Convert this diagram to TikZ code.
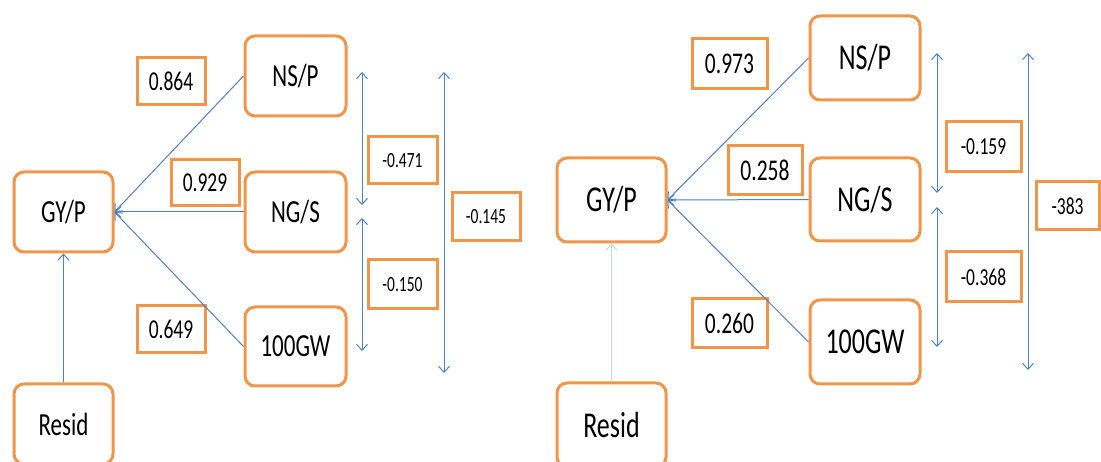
\documentclass[tikz,border=0pt]{standalone}
\usepackage{fontspec}
\usepackage{graphicx}
\setmainfont{Carlito}
\usetikzlibrary{arrows.meta}
\definecolor{boxorange}{RGB}{240,150,75}
\definecolor{lineblue}{RGB}{80,128,190}
\definecolor{paleblue}{RGB}{190,214,240}
\newcommand{\stt}[1]{\scalebox{1}[1.4]{#1}}
\tikzset{
  mainbox/.style={draw=boxorange, line width=3pt, rounded corners=10pt, fill=white, inner sep=0pt},
  numbox/.style={draw=boxorange, line width=3pt, fill=white, inner sep=0pt},
  arr/.style={draw=lineblue, line width=1pt, -{Straight Barb[length=6pt,width=11pt]}},
  darr/.style={draw=lineblue, line width=1pt, {Straight Barb[length=6pt,width=11pt]}-{Straight Barb[length=6pt,width=11pt]}},
}
\begin{document}
\begin{tikzpicture}[x=1pt,y=-1pt]
\useasboundingbox (0,0) rectangle (1101,462);
\clip (0,0) rectangle (1101,462);
\fill[white] (0,0) rectangle (1101,462);
% ---------- left panel ----------
\begin{scope}[every node/.append style={font=\fontsize{23}{26}\selectfont}]
\node[mainbox, minimum width=99pt, minimum height=80pt] (gyp1) at (63.5,212) {\stt{GY/P}};
\node[mainbox, minimum width=101pt, minimum height=80pt] (nsp1) at (295.5,76) {\stt{NS/P}};
\node[mainbox, minimum width=101pt, minimum height=80pt] (ngs1) at (295.5,212) {\stt{NG/S}};
\node[mainbox, minimum width=101pt, minimum height=79pt] (gw1) at (295.5,346.5) {\stt{100GW}};
\node[mainbox, minimum width=99pt, minimum height=80pt] (res1) at (63.5,424) {\stt{Resid}};
\end{scope}
\begin{scope}[every node/.append style={font=\fontsize{19.5}{22}\selectfont}]
\node[numbox, minimum width=68pt, minimum height=47pt] (l864) at (171,81.5) {\stt{0.864}};
\node[numbox, minimum width=68pt, minimum height=46pt] (l929) at (205,183) {\stt{0.929}};
\node[numbox, minimum width=68pt, minimum height=47pt] (l649) at (171,329.5) {\stt{0.649}};
\end{scope}
\begin{scope}[every node/.append style={font=\fontsize{15.5}{18}\selectfont}]
\node[numbox, minimum width=69pt, minimum height=47pt] (l471) at (402.5,160.5) {\stt{-0.471}};
\node[numbox, minimum width=68pt, minimum height=48pt] (l145) at (486,217) {\stt{-0.145}};
\node[numbox, minimum width=69pt, minimum height=49pt] (l150) at (402.5,284.5) {\stt{-0.150}};
\end{scope}
\draw[arr] (nsp1.west) -- (gyp1.east);
\draw[arr] (ngs1.west) -- (gyp1.east);
\draw[arr] (gw1.west) -- (gyp1.east);
\draw[arr] (res1.north) -- (gyp1.south);
\coordinate (a1t) at (362,72);
\coordinate (a1b) at (362,205);
\coordinate (a2t) at (362,218);
\coordinate (a2b) at (362,351);
\coordinate (a3t) at (444,72);
\coordinate (a3b) at (444,373);
\draw[darr] (a1t) -- (a1b);
\draw[darr] (a2t) -- (a2b);
\draw[darr] (a3t) -- (a3b);
% ---------- right panel ----------
\begin{scope}[every node/.append style={font=\fontsize{26}{30}\selectfont}]
\node[mainbox, minimum width=109pt, minimum height=84pt] (gyp2) at (611.5,200) {\stt{GY/P}};
\node[mainbox, minimum width=110pt, minimum height=84pt] (nsp2) at (865,58) {\stt{NS/P}};
\node[mainbox, minimum width=110pt, minimum height=83pt] (ngs2) at (865,199.5) {\stt{NG/S}};
\node[mainbox, minimum width=110pt, minimum height=84pt] (gw2) at (865,342) {\stt{100GW}};
\node[mainbox, minimum width=109pt, minimum height=84pt] (res2) at (611.5,425) {\stt{Resid}};
\end{scope}
\begin{scope}[every node/.append style={font=\fontsize{21.5}{24}\selectfont}]
\node[numbox, minimum width=75pt, minimum height=50pt] (l973) at (729.5,64) {\stt{0.973}};
\node[numbox, minimum width=74pt, minimum height=49pt] (l258) at (765,170.5) {\stt{0.258}};
\node[numbox, minimum width=75pt, minimum height=49pt] (l260) at (729.5,323.5) {\stt{0.260}};
\end{scope}
\begin{scope}[every node/.append style={font=\fontsize{17.5}{20}\selectfont}]
\node[numbox, minimum width=75pt, minimum height=50pt] (l159) at (983.5,147) {\stt{-0.159}};
\node[numbox, minimum width=63pt, minimum height=48pt] (l383) at (1067.5,206) {\stt{-383}};
\node[numbox, minimum width=75pt, minimum height=50pt] (l368) at (983.5,277) {\stt{-0.368}};
\end{scope}
\draw[arr] (nsp2.west) -- (gyp2.east);
\draw[arr] (ngs2.west) -- (gyp2.east);
\draw[arr] (gw2.west) -- (gyp2.east);
\draw[arr, draw=paleblue] (res2.north) -- (gyp2.south);
\coordinate (b1t) at (937,53);
\coordinate (b1b) at (937,193);
\coordinate (b2t) at (937,207);
\coordinate (b2b) at (937,347);
\coordinate (b3t) at (1028,53);
\coordinate (b3b) at (1028,370);
\draw[darr] (b1t) -- (b1b);
\draw[darr] (b2t) -- (b2b);
\draw[darr] (b3t) -- (b3b);
\end{tikzpicture}
\end{document}
